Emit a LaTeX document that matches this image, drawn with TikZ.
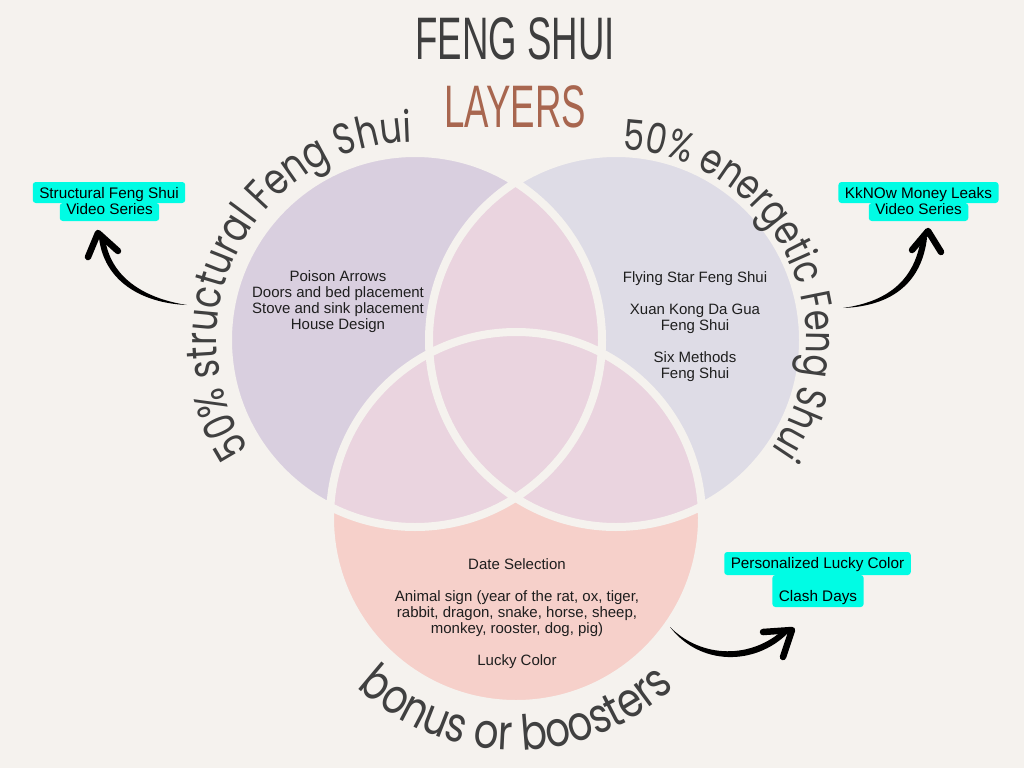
\documentclass[tikz,border=0pt]{standalone}
\usepackage{fontspec}
\usepackage{graphicx}
\setmainfont{Liberation Sans}
\newfontfamily\curvefont[FakeStretch=0.8]{Poppins}
\newfontfamily\titlefont{Liberation Sans}
\usetikzlibrary{decorations.text}
\definecolor{bgc}{RGB}{245,242,238}
\definecolor{purpc}{RGB}{217,207,223}
\definecolor{lavc}{RGB}{222,220,230}
\definecolor{pinkc}{RGB}{234,212,223}
\definecolor{salmc}{RGB}{246,208,202}
\definecolor{cyanc}{RGB}{0,252,228}
\definecolor{titlec}{RGB}{62,62,62}
\definecolor{layc}{RGB}{168,102,79}
\definecolor{curvec}{RGB}{64,64,64}
\definecolor{bodyc}{RGB}{30,30,30}
\newlength\cwA
\newlength\cwB
\newlength\cwC
\AtBeginDocument{%
\settowidth\cwA{\curvefont\fontsize{10}{12}\selectfont 50\% structural Feng Shui}%
\settowidth\cwB{\curvefont\fontsize{10}{12}\selectfont 50\% energetic Feng Shui}%
\settowidth\cwC{\curvefont\fontsize{10}{12}\selectfont bonus or boosters}%
\pgfmathsetmacro\fsA{10*424/\cwA}%
\pgfmathsetmacro\fsB{10*408/\cwB}%
\pgfmathsetmacro\fsC{10*350/\cwC}%
\xdef\fsA{\fsA}\xdef\fsB{\fsB}\xdef\fsC{\fsC}%
}
\begin{document}
\begin{tikzpicture}[x=1pt,y=-1pt,
  bodytext/.style={font=\fontsize{15}{16}\selectfont, text=bodyc, align=center, inner sep=0pt},
  tagbox/.style={fill=cyanc, rounded corners=3pt, inner ysep=0pt, inner xsep=6.5pt, font=\fontsize{15.3}{16}\selectfont, text=black, anchor=base},
  gapline/.style={draw=bgc, line width=8pt},
  brush/.style={fill=black},
  arrowhead/.style={draw=black, line width=6.5pt, line cap=round, line join=round},
  titletext/.style={inner sep=0pt}]
\useasboundingbox (0,0) rectangle (1024,768);
\fill[bgc] (0,0) rectangle (1024,768);

% circles
\coordinate (Lc) at (415,340);
\coordinate (Rc) at (616,340);
\coordinate (Bc) at (516,518);
\fill[purpc] (Lc) circle[radius=187];
\fill[lavc] (Rc) circle[radius=187];
\fill[salmc] (Bc) circle[radius=186];
\begin{scope}
  \clip (Lc) circle[radius=187];
  \fill[pinkc] (Rc) circle[radius=187];
  \fill[pinkc] (Bc) circle[radius=186];
\end{scope}
\begin{scope}
  \clip (Rc) circle[radius=187];
  \fill[pinkc] (Bc) circle[radius=186];
\end{scope}
\draw[gapline] (Lc) circle[radius=187] (Rc) circle[radius=187] (Bc) circle[radius=186];

% titles
\node[titletext, text=titlec] (t1) at (515,38.5) {\scalebox{0.61}[1]{\titlefont\fontsize{60}{60}\selectfont FENG SHUI}};
\node[titletext, text=layc] (t2) at (515,106.5) {\scalebox{0.61}[1]{\titlefont\fontsize{60}{60}\selectfont LAYERS}};

% body texts
\node[bodytext] (ltxt) at (338,302) {Poison Arrows\\Doors and bed placement\\Stove and sink placement\\House Design};
\node[bodytext] (rtxt) at (695,327) {Flying Star Feng Shui\\[16pt]Xuan Kong Da Gua\\Feng Shui\\[16pt]Six Methods\\Feng Shui};
\node[bodytext] (btxt) at (517,614) {Date Selection\\[16pt]Animal sign (year of the rat, ox, tiger,\\rabbit, dragon, snake, horse, sheep,\\monkey, rooster, dog, pig)\\[16pt]Lucky Color};

% curved texts
\path[decorate, decoration={text along path, text align=center, text color=curvec,
  text={|\curvefont\fontsize{\fsA}{\fsA}\selectfont|50{\%} structural Feng Shui}}]
  (Lc) ++(-242.3:198) arc[start angle=-242.3, end angle=-62.3, radius=198];
\path[decorate, decoration={text along path, text align=center, text color=curvec,
  text={|\curvefont\fontsize{\fsB}{\fsB}\selectfont|50{\%} energetic Feng Shui}}]
  (Rc) ++(-116.5:190) arc[start angle=-116.5, end angle=63.5, radius=190];
\path[decorate, decoration={text along path, text align=center, text color=curvec,
  text={|\curvefont\fontsize{\fsC}{\fsC}\selectfont|bonus or boosters}}]
  (Bc) ++(180:232) arc[start angle=180, end angle=0, radius=232];

% tag boxes
\node[tagbox, text height=11pt, text depth=7pt] (s2) at (109.5,214) {Video Series};
\node[tagbox, text height=16pt, text depth=5pt] (s1) at (109,198) {Structural Feng Shui};
\node[tagbox, text height=11pt, text depth=7pt] (k2) at (918.5,214) {Video Series};
\node[tagbox, text height=16pt, text depth=5pt] (k1) at (918.5,198) {KkNOw Money Leaks};
\node[tagbox, text height=26pt, text depth=6pt] (p2) at (818,601) {Clash Days};
\node[tagbox, text height=16pt, text depth=7pt] (p1) at (817.5,568) {Personalized Lucky Color};

% arrows
\coordinate (a1s) at (187,305); \coordinate (a1e) at (99,238); \coordinate (a1t) at (98,233);
\fill[brush] (a1s) .. controls (140,303) and (104,280) .. (a1e) -- (105,238) .. controls (110,276) and (142,298) .. (a1s);
\draw[arrowhead] (88,257) -- (a1t) -- (118,251);

\coordinate (a2s) at (843,308); \coordinate (a2e) at (927,238); \coordinate (a2t) at (928,231);
\fill[brush] (a2s) .. controls (895,306) and (922,280) .. (a2e) -- (921,238) .. controls (915,277) and (892,301) .. (a2s);
\draw[arrowhead] (912,250) -- (a2t) -- (941,252);

\coordinate (a3s) at (670,627); \coordinate (a3e) at (788,633); \coordinate (a3t) at (792,630);
\fill[brush] (a3s) .. controls (700,666) and (755,666) .. (a3e) -- (784,629) .. controls (752,659) and (702,659) .. (a3s);
\draw[arrowhead] (763,632) -- (a3t) -- (783,657);
\end{tikzpicture}
\end{document}
